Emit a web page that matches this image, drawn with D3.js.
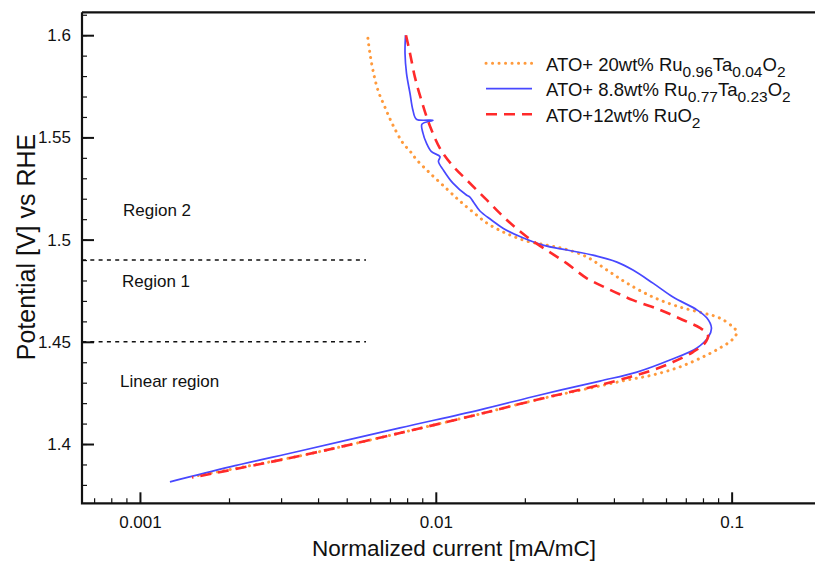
<!DOCTYPE html>
<html><head><meta charset="utf-8">
<script src="https://cdn.jsdelivr.net/npm/d3@7"></script>
<style>
html,body{margin:0;padding:0;background:#fff;}
svg text{font-family:"Liberation Sans",Arial,Helvetica,sans-serif;fill:#111;}
</style></head>
<body><svg id="c" width="815" height="561"></svg>
<script>
// ---- data ----
const seriesNames = ["ATO+ 20wt% Ru0.96Ta0.04O2","ATO+ 8.8wt% Ru0.77Ta0.23O2","ATO+12wt% RuO2"];
// legend label pieces: [text, isSubscript]
const legendParts = [
  [["ATO+ 20wt% Ru",0],["0.96",1],["Ta",0],["0.04",1],["O",0],["2",1]],
  [["ATO+ 8.8wt% Ru",0],["0.77",1],["Ta",0],["0.23",1],["O",0],["2",1]],
  [["ATO+12wt% RuO",0],["2",1]]
];
// ATO+20wt% Ru0.96Ta0.04O2 (orange dotted)
const orangeI = [0.005895,0.005988,0.006131,0.006373,0.006730,0.007164,0.007745,0.00818,0.008636,0.00956,0.01091,0.01207,0.01335,0.01525,0.01971,0.02375,0.02733,0.03242,0.03789,0.04427,0.05420,0.06679,0.07998,0.09131,0.10102,0.1042,0.10023,0.09131,0.07998,0.06679,0.05420,0.04427,0.03587,0.02249,0.01410,0.00757,0.003473,0.001543];
const orangeV = [1.5985,1.5912,1.5829,1.5731,1.5648,1.5560,1.5472,1.5433,1.5389,1.5325,1.5247,1.5188,1.5135,1.5071,1.4998,1.4973,1.4954,1.4915,1.4851,1.4787,1.4719,1.4670,1.4641,1.4616,1.4572,1.4548,1.4509,1.4470,1.4426,1.4377,1.4338,1.4313,1.4284,1.4220,1.4147,1.4054,1.3942,1.3844];
// ATO+8.8wt% Ru0.77Ta0.23O2 (blue solid)
const blueI = [0.00790,0.00787,0.00796,0.00818,0.00837,0.00860,0.00978,0.00898,0.00905,0.00930,0.00967,0.01033,0.01021,0.01061,0.01143,0.01269,0.01304,0.01340,0.01410,0.01542,0.01687,0.01925,0.02302,0.02776,0.03398,0.04096,0.04639,0.05420,0.06334,0.07633,0.08251,0.08545,0.08348,0.07633,0.06186,0.04785,0.03587,0.02249,0.01410,0.00757,0.003473,0.002014,0.001263];
const blueV = [1.6000,1.5912,1.5814,1.5716,1.5633,1.5589,1.5584,1.5565,1.5521,1.5472,1.5430,1.5406,1.5382,1.5340,1.5276,1.5218,1.5208,1.5184,1.5140,1.5096,1.5056,1.5015,1.4973,1.4949,1.4924,1.4890,1.4851,1.4787,1.4719,1.4656,1.4616,1.4568,1.4524,1.4470,1.4411,1.4352,1.4308,1.4240,1.4167,1.4079,1.3966,1.3888,1.3815];
// ATO+12wt% RuO2 (red dashed)
const redI = [0.00793,0.00818,0.00850,0.00894,0.00956,0.01041,0.01143,0.01273,0.01489,0.01726,0.02025,0.02366,0.02765,0.03230,0.03774,0.04639,0.05731,0.06846,0.07815,0.08318,0.08125,0.07399,0.06334,0.05420,0.04532,0.03587,0.02249,0.01410,0.00757,0.003473,0.001500];
const redV = [1.6000,1.5912,1.5795,1.5682,1.5555,1.5438,1.5360,1.5291,1.5193,1.5100,1.5015,1.4949,1.4885,1.4812,1.4763,1.4704,1.4656,1.4607,1.4568,1.4533,1.4494,1.4450,1.4401,1.4362,1.4328,1.4289,1.4220,1.4147,1.4054,1.3942,1.3836];
const xTickValues = [0.001,0.01,0.1];
const xTickLabels = ["0.001","0.01","0.1"];
const yTickValues = [1.4,1.45,1.5,1.55,1.6];
const yTickLabels = ["1.4","1.45","1.5","1.55","1.6"];
const regionLines = [1.49,1.45];
const regionLabels = ["Region 2","Region 1","Linear region"];
const regionLabelV = [1.5115,1.4770,1.4280];
const xTitle = "Normalized current [mA/mC]";
const yTitle = "Potential [V] vs RHE";

// ---- drawing ----
const svg = d3.select("#c");
const L = 82, T = 12.3, B = 503.3, R = 820.7;
const x = d3.scaleLog().domain([0.000637, 0.2]).range([L, R]);
const y = d3.scaleLinear().domain([1.371, 1.6112]).range([B, T]);

svg.append("clipPath").attr("id","clip").append("rect")
  .attr("x",L).attr("y",T).attr("width",R-L).attr("height",B-T);

// minor ticks
const xMinor = [];
[0.0001,0.001,0.01,0.1].forEach(d=>{for(let k=2;k<=9;k++){const v=d*k; if(v>0.000637&&v<0.2) xMinor.push(v);}});
const yMinor = d3.range(138,162).map(i=>i/100);

const gx = svg.append("g").attr("transform",`translate(0,${B})`);
gx.call(d3.axisBottom(x).tickValues(xMinor).tickSize(-5).tickFormat(""));
gx.selectAll(".tick line").attr("stroke","#111").attr("stroke-width",1.2);
gx.selectAll(".tick text").remove();
const gx2 = svg.append("g").attr("transform",`translate(0,${B})`);
gx2.call(d3.axisBottom(x).tickValues(xTickValues).tickSize(-11).tickFormat((d,i)=>xTickLabels[i]));
gx2.selectAll(".tick line").attr("stroke","#111").attr("stroke-width",2);
gx2.selectAll(".tick text").attr("font-size","17px").attr("dy","0").attr("y",25).attr("fill","#111");
svg.selectAll(".domain").remove();

const gy = svg.append("g").attr("transform",`translate(${L},0)`);
gy.call(d3.axisLeft(y).tickValues(yMinor).tickSize(-5).tickFormat(""));
gy.selectAll(".tick line").attr("stroke","#111").attr("stroke-width",1.2);
gy.selectAll(".tick text").remove();
const gy2 = svg.append("g").attr("transform",`translate(${L},0)`);
gy2.call(d3.axisLeft(y).tickValues(yTickValues).tickSize(-12).tickFormat((d,i)=>yTickLabels[i]));
gy2.selectAll(".tick line").attr("stroke","#111").attr("stroke-width",2);
gy2.selectAll(".tick text").attr("font-size","17px").attr("x",-11).attr("fill","#111");
svg.selectAll(".domain").remove();

// frame
svg.append("path").attr("d",`M${L},${T}H815M${L},${T}V${B}H815`)
  .attr("fill","none").attr("stroke","#111").attr("stroke-width",2.2);

// region lines
regionLines.forEach(v=>{
  svg.append("line").attr("x1",L).attr("x2",366).attr("y1",y(v)).attr("y2",y(v))
    .attr("stroke","#111").attr("stroke-width",1.6).attr("stroke-dasharray","4 4.3");
});
regionLabels.forEach((t,i)=>{
  svg.append("text").attr("x",i==2?120:(i==0?123:122)).attr("y",y(regionLabelV[i]))
    .attr("font-size","17px").text(t);
});

// curves
const line = d3.line().x(d=>x(d[0])).y(d=>y(d[1])).curve(d3.curveCatmullRom.alpha(0.5));
const styles = [
  {c:"#ff9a3c", w:3, dash:"0.1 6.4", cap:"round"},
  {c:"#4848ff", w:1.7, dash:null, cap:"butt"},
  {c:"#ff2a2a", w:2.6, dash:"11 7", cap:"butt"}
];
const series = [d3.zip(orangeI,orangeV), d3.zip(blueI,blueV), d3.zip(redI,redV)];
const cg = svg.append("g").attr("clip-path","url(#clip)");
series.forEach((s,i)=>{
  cg.append("path").attr("d",line(s)).attr("fill","none")
    .attr("stroke",styles[i].c).attr("stroke-width",styles[i].w)
    .attr("stroke-linecap",styles[i].cap).attr("stroke-linejoin","round")
    .attr("stroke-dasharray",styles[i].dash);
});

// legend
const legY = [70.7, 96.2, 121.7];
legendParts.forEach((parts,i)=>{
  const st = styles[i];
  svg.append("line").attr("x1",486).attr("x2",532).attr("y1",legY[i]-7.5).attr("y2",legY[i]-7.5)
    .attr("stroke",st.c).attr("stroke-width",st.w).attr("stroke-linecap",st.cap)
    .attr("stroke-dasharray",st.dash);
  const t = svg.append("text").attr("x",546).attr("y",legY[i]).attr("font-size","18.5px");
  let prevSub = false;
  parts.forEach(p=>{
    const isSub = !!p[1];
    const dy = isSub && !prevSub ? 6 : (!isSub && prevSub ? -6 : 0);
    t.append("tspan").attr("font-size",isSub?"15.5px":"18.5px").attr("dy",dy).text(p[0]);
    prevSub = isSub;
  });
});

// titles
svg.append("text").attr("x",454).attr("y",556).attr("text-anchor","middle")
  .attr("font-size","22.5px").text(xTitle);
svg.append("text").attr("transform","translate(35,247) rotate(-90)").attr("text-anchor","middle")
  .attr("font-size","25px").text(yTitle);
</script></body></html>
